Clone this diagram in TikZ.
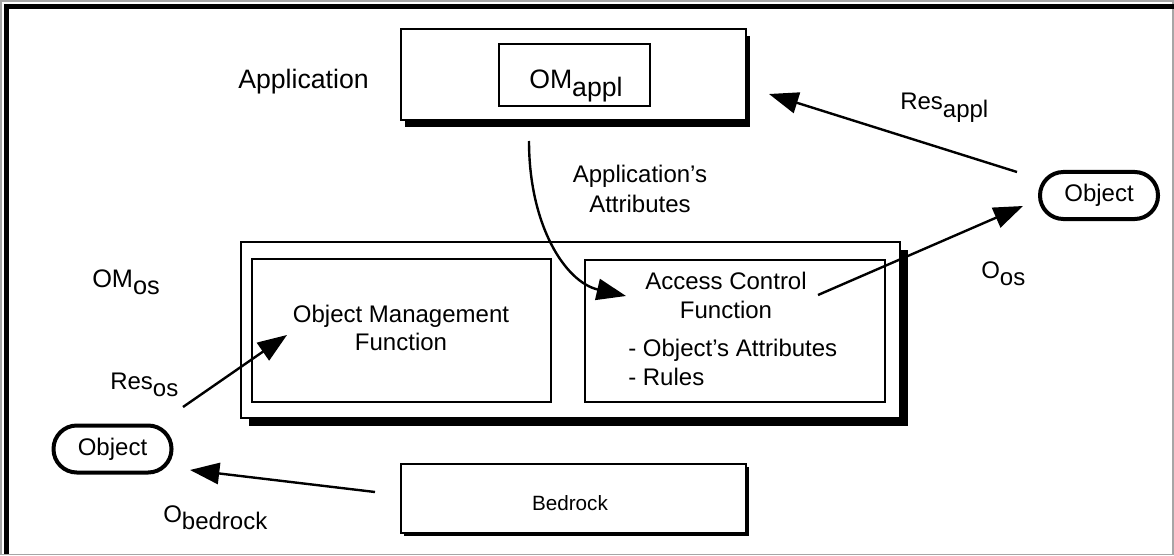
\documentclass[tikz,border=0pt]{standalone}
\usepackage{fontspec}
\setmainfont{Liberation Sans}
\usetikzlibrary{arrows.meta,shadows}

% subscripts set at full size, just lowered
\newcommand\lowsub[1]{\raisebox{-0.3em}{#1}}

\begin{document}
\begin{tikzpicture}[x=0.75pt,y=-0.75pt,
  lbl/.style={inner sep=0pt, font=\fontsize{18}{21.6}\selectfont},
  biglbl/.style={inner sep=0pt, font=\fontsize{20}{24}\selectfont},
  plainbox/.style={draw, line width=1.5pt, fill=white, inner sep=0pt},
  shadowed/.style 2 args={plainbox, drop shadow={shadow xshift=#1, shadow yshift=-#2, fill=black, opacity=1}},
  objnode/.style={draw, line width=3pt, rounded corners=17.5pt, fill=white,
    minimum width=88.5pt, minimum height=35.25pt, inner sep=0pt,
    font=\fontsize{18}{21.6}\selectfont},
  conn/.style={line width=1.8pt, -{Triangle[length=22pt,width=16pt]}}
]
\useasboundingbox (0,0) rectangle (1174,556);

% frame
\draw[gray!70, line width=1.1pt] (1,1) rectangle (1173,554.5);
\fill[black] (4,4) rectangle (1174,9);
\fill[black] (4,4) rectangle (9,554);

% application layer
\node[shadowed={2.8pt}{5pt}, minimum width=258.75pt, minimum height=68.25pt] (app) at (573.5,75) {};
\node[plainbox, minimum width=113.25pt, minimum height=46.5pt] (omappl) at (574.5,75) {};
\node[biglbl, anchor=base west] (applab) at (238,89) {Application};
\node[biglbl, anchor=base west] (omappllab) at (529,89) {OM\lowsub{appl}};

% operating system object manager
\node[shadowed={6pt}{6pt}, minimum width=494.25pt, minimum height=132pt] (os) at (570.5,330) {};
\node[plainbox, minimum width=224.25pt, minimum height=107.25pt] (omf) at (401.5,330.5) {};
\node[plainbox, minimum width=225pt, minimum height=106.5pt] (acf) at (735,331) {};
\node[lbl, font=\fontsize{19}{23}\selectfont, anchor=base west] (omoslab) at (92,287) {OM\lowsub{os}};

\node[lbl, anchor=base] (omf1) at (401,322) {Object Management};
\node[lbl, anchor=base] (omf2) at (401,350) {Function};

\node[lbl, anchor=base] (acf1) at (726,289) {Access Control};
\node[lbl, anchor=base] (acf2) at (726,318) {Function};
\node[lbl, anchor=base west] (acf3) at (628,356) {- Object’s Attributes};
\node[lbl, anchor=base west] (acf4) at (628,385) {- Rules};

% bedrock
\node[shadowed={2.2pt}{2.4pt}, minimum width=258.75pt, minimum height=51.75pt] (bed) at (573.5,498.5) {};
\node[inner sep=0pt, font=\fontsize{15.5}{18}\selectfont, anchor=base] (bedlab) at (570,510) {Bedrock};

% objects
\node[objnode] (objR) at (1099,195.5) {Object};
\node[objnode] (objL) at (112.5,449) {Object};

% labels on the flows
\node[lbl, anchor=base west] (resappllab) at (900,110) {Res\lowsub{appl}};
\node[lbl, anchor=base] (attr1) at (640,183) {Application’s};
\node[lbl, anchor=base] (attr2) at (640,212) {Attributes};
\node[lbl, anchor=base west] (ooslab) at (981,278) {O\lowsub{os}};
\node[lbl, anchor=base west] (resoslab) at (110,389) {Res\lowsub{os}};
\node[lbl, anchor=base west] (obedlab) at (163,522) {O\lowsub{bedrock}};

% flow end points
\coordinate (resapplS) at (1017,172);
\coordinate (resapplE) at (769,94);
\coordinate (attrS) at (529,141);
\coordinate (attrE) at (626,296);
\coordinate (oosS) at (818,295);
\coordinate (oosE) at (1023,206);
\coordinate (resosS) at (183,407);
\coordinate (resosE) at (287,335);
\coordinate (obedS) at (375,492);
\coordinate (obedE) at (190,470);

% flows
\draw[conn] (resapplS) -- (resapplE);
\draw[conn] (attrS) .. controls (529,225) and (565,282) .. (attrE);
\draw[conn] (oosS) -- (oosE);
\draw[conn] (resosS) -- (resosE);
\draw[conn] (obedS) -- (obedE);
\end{tikzpicture}
\end{document}
